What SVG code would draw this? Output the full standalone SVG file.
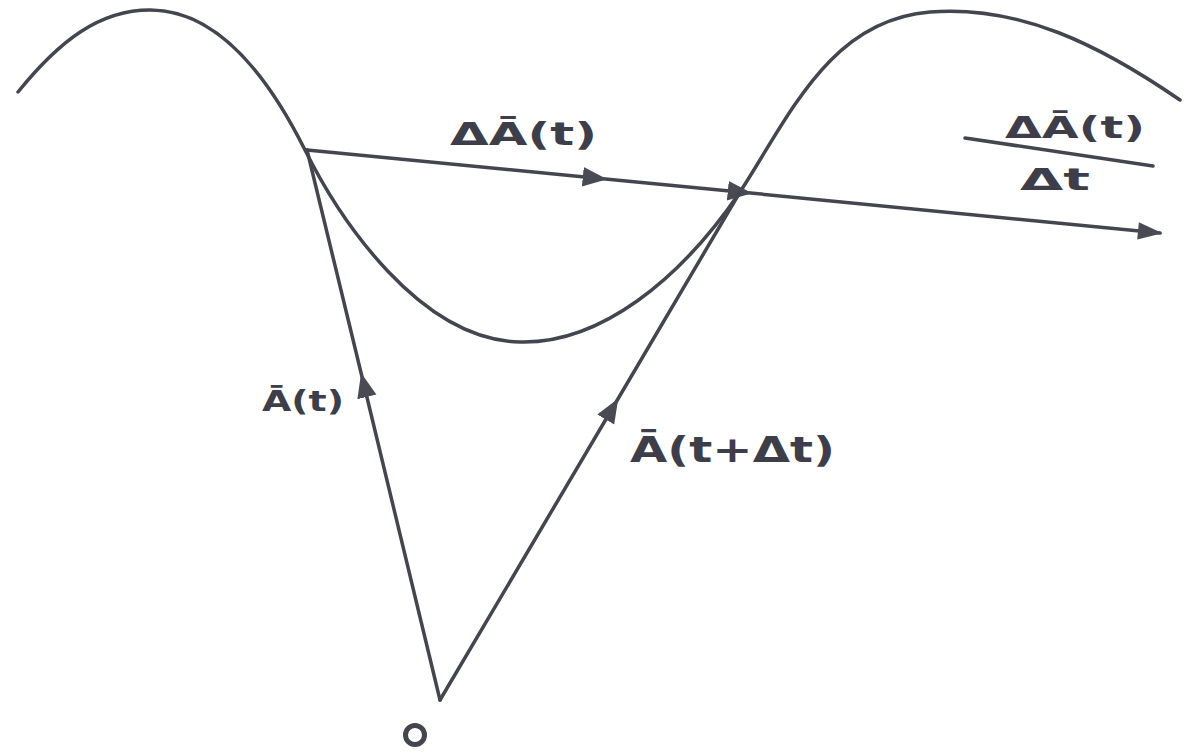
<svg xmlns="http://www.w3.org/2000/svg" width="1190" height="753" viewBox="0 0 1190 753">
<style>
.ln{fill:none;stroke:#45454f;stroke-width:3.5;stroke-linecap:round;stroke-linejoin:round}
.lbl{font-family:"DejaVu Sans","Liberation Sans",sans-serif;font-weight:bold;fill:#3e3e4a}
</style>
<defs>
<marker id="ah" viewBox="0 0 10 10" refX="5" refY="5" markerWidth="7" markerHeight="8" orient="auto" markerUnits="strokeWidth">
<path d="M0,1 L10,5 L0,9 Z" fill="#4a4a55"/>
</marker>
<marker id="ahEnd" viewBox="0 0 10 10" refX="9" refY="5" markerWidth="13" markerHeight="7" orient="auto" markerUnits="strokeWidth">
<path d="M0,1.5 L10,5 L0,8.5 Z" fill="#4a4a55"/>
</marker>
</defs>
<rect width="1190" height="753" fill="#ffffff"/>
<g id="curve">
<path class="ln" d="M18,92 C60,40 100,10 150,10 C220,10 270,80 305,150 C340,220 420,340 520,342 C600,344 680,280 740,192 C790,115 830,20 930,12 C1020,5 1100,45 1180,100"/>
</g>
<g id="connectors">
<path class="ln" d="M307,150 L595,178 L740,192 L1160,233" marker-mid="url(#ah)" marker-end="url(#ahEnd)"/>
<path class="ln" d="M440,700 L364,385 L307,150" marker-mid="url(#ah)"/>
<path class="ln" d="M440,700 L612,409 L740,192" marker-mid="url(#ah)"/>
<path class="ln" d="M965,138 L1153,166"/>
</g>
<g id="origin">
<circle cx="415" cy="735" r="9.5" fill="none" stroke="#45454f" stroke-width="5"/>
</g>
<g id="label-dA">
<text class="lbl" x="450" y="145" font-size="32" textLength="147" lengthAdjust="spacingAndGlyphs">ΔĀ(t)</text>
</g>
<g id="label-frac">
<text class="lbl" x="1005" y="138" font-size="30" textLength="140" lengthAdjust="spacingAndGlyphs">ΔĀ(t)</text>
<text class="lbl" x="1020" y="190" font-size="30" textLength="70" lengthAdjust="spacingAndGlyphs">Δt</text>
</g>
<g id="label-At">
<text class="lbl" x="262" y="411" font-size="28" textLength="82" lengthAdjust="spacingAndGlyphs">Ā(t)</text>
</g>
<g id="label-Atdt">
<text class="lbl" x="630" y="462" font-size="36" textLength="205" lengthAdjust="spacingAndGlyphs">Ā(t+Δt)</text>
</g>
</svg>
